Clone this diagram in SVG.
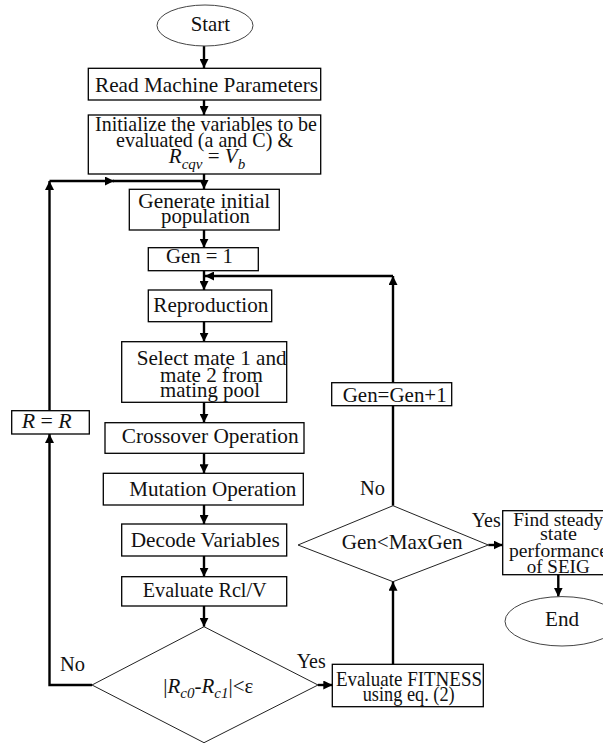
<svg xmlns="http://www.w3.org/2000/svg" width="603" height="744" viewBox="0 0 603 744">
<style>
  .box { fill: #fff; stroke: #000; stroke-width: 1.3; }
  .term { fill: #fff; stroke: #444; stroke-width: 1; }
  .dec { fill: #fff; stroke: #222; stroke-width: 1; }
  .conn { fill: none; stroke: #000; stroke-width: 2.4; }
  .t { font-family: 'Liberation Serif', 'Times New Roman', 'DejaVu Serif', serif; font-size: 21px; fill: #111; }
  .sm { font-size: 19.5px; }
  .it { font-style: italic; }
  .sub { font-style: italic; font-size: 15px; }
</style>
<defs>
  <marker id="ah" viewBox="0 0 10 10" refX="10" refY="5" markerWidth="9" markerHeight="9" markerUnits="userSpaceOnUse" orient="auto">
    <path d="M0,0 L10,5 L0,10 z" fill="#000"/>
  </marker>
</defs>
<rect width="603" height="744" fill="#fff"/>

<g id="connectors">
  <path class="conn" d="M204,46 L204,68" marker-end="url(#ah)"/>
  <path class="conn" d="M204,100 L204,115" marker-end="url(#ah)"/>
  <path class="conn" d="M204,174 L204,189" marker-end="url(#ah)"/>
  <path class="conn" d="M49.5,410.7 L49.5,181" marker-end="url(#ah)"/>
  <path class="conn" d="M49.5,181 L114,181" marker-end="url(#ah)"/>
  <path class="conn" d="M113,181 L204,181"/>
  <path class="conn" d="M204,230 L204,247.7" marker-end="url(#ah)"/>
  <path class="conn" d="M204,270.7 L204,290" marker-end="url(#ah)"/>
  <path class="conn" d="M393,382.7 L393,276" marker-end="url(#ah)"/>
  <path class="conn" d="M393,276 L205,276" marker-end="url(#ah)"/>
  <path class="conn" d="M204,321.7 L204,341.7" marker-end="url(#ah)"/>
  <path class="conn" d="M204,402.3 L204,422.7" marker-end="url(#ah)"/>
  <path class="conn" d="M92,685 L49.5,685 L49.5,434" marker-end="url(#ah)"/>
  <path class="conn" d="M204,453.3 L204,473.3" marker-end="url(#ah)"/>
  <path class="conn" d="M204,505 L204,524" marker-end="url(#ah)"/>
  <path class="conn" d="M204,556 L204,576.7" marker-end="url(#ah)"/>
  <path class="conn" d="M204,606 L204,626.7" marker-end="url(#ah)"/>
  <path class="conn" d="M318,685 L332.3,685" marker-end="url(#ah)"/>
  <path class="conn" d="M393,664.3 L393,581.7" marker-end="url(#ah)"/>
  <path class="conn" d="M393,505.7 L393,405.7"/>
  <path class="conn" d="M488.3,545 L502.7,545" marker-end="url(#ah)"/>
  <path class="conn" d="M558.3,574 L558.3,596.7" marker-end="url(#ah)"/>
</g>

<g id="start">
  <ellipse class="term" cx="205" cy="25.5" rx="48" ry="20.5"/>
  <text class="t" x="190.7" y="31" textLength="39.3" lengthAdjust="spacingAndGlyphs">Start</text>
</g>

<g id="read">
  <rect class="box" x="88.3" y="68.3" width="232.4" height="31.7"/>
  <text class="t" x="95" y="91.7" textLength="223" lengthAdjust="spacingAndGlyphs">Read Machine Parameters</text>
</g>

<g id="init">
  <rect class="box" x="88.3" y="115" width="232.4" height="59"/>
  <text class="t" x="95" y="130.7" textLength="222" lengthAdjust="spacingAndGlyphs">Initialize the variables to be</text>
  <text class="t" x="116" y="146.7" textLength="177" lengthAdjust="spacingAndGlyphs">evaluated (a and C) &amp;</text>
  <text class="t" x="207" y="162.5" text-anchor="middle"><tspan class="it">R</tspan><tspan class="sub" dy="6">cqv</tspan><tspan dy="-6"> = </tspan><tspan class="it">V</tspan><tspan class="sub" dy="6">b</tspan></text>
</g>

<g id="generate">
  <rect class="box" x="129.3" y="189.3" width="150" height="40.7"/>
  <text class="t" x="138.3" y="207.7" textLength="132" lengthAdjust="spacingAndGlyphs">Generate initial</text>
  <text class="t" x="161" y="223.3" textLength="89" lengthAdjust="spacingAndGlyphs">population</text>
</g>

<g id="gen1">
  <rect class="box" x="148.3" y="247.7" width="110" height="23"/>
  <text class="t" x="166" y="263.3" textLength="67" lengthAdjust="spacingAndGlyphs">Gen = 1</text>
</g>

<g id="reproduction">
  <rect class="box" x="148.3" y="290" width="123.4" height="31.7"/>
  <text class="t" x="153.3" y="311.7" textLength="115" lengthAdjust="spacingAndGlyphs">Reproduction</text>
</g>

<g id="select">
  <rect class="box" x="121.7" y="341.7" width="165" height="60.6"/>
  <text class="t" x="136.7" y="365" textLength="150" lengthAdjust="spacingAndGlyphs">Select mate 1 and</text>
  <text class="t" x="160" y="381.7" textLength="103" lengthAdjust="spacingAndGlyphs">mate 2 from</text>
  <text class="t" x="160" y="397.3" textLength="100" lengthAdjust="spacingAndGlyphs">mating pool</text>
</g>

<g id="rr">
  <rect class="box" x="11.7" y="410.7" width="77.6" height="23.3"/>
  <text class="t" x="21.7" y="428" textLength="50" lengthAdjust="spacingAndGlyphs"><tspan class="it">R</tspan> = <tspan class="it">R</tspan></text>
</g>

<g id="crossover">
  <rect class="box" x="105" y="422.7" width="199" height="30.6"/>
  <text class="t" x="121.7" y="443.3" textLength="177" lengthAdjust="spacingAndGlyphs">Crossover Operation</text>
</g>

<g id="mutation">
  <rect class="box" x="103.3" y="473.3" width="200" height="31.7"/>
  <text class="t" x="129.3" y="496" textLength="167" lengthAdjust="spacingAndGlyphs">Mutation Operation</text>
</g>

<g id="decode">
  <rect class="box" x="121.7" y="524" width="165" height="32"/>
  <text class="t" x="130.7" y="546.7" textLength="149" lengthAdjust="spacingAndGlyphs">Decode Variables</text>
</g>

<g id="evalrcl">
  <rect class="box" x="121.7" y="576.7" width="165" height="29.3"/>
  <text class="t" x="142.7" y="596.7" textLength="124" lengthAdjust="spacingAndGlyphs">Evaluate Rcl/V</text>
</g>

<g id="conv">
  <polygon class="dec" points="204,626.7 318,685 204,742.7 92,685"/>
  <text class="t" x="163.3" y="693.3">|<tspan class="it">R</tspan><tspan class="sub" dy="5">c0</tspan><tspan dy="-5">-</tspan><tspan class="it">R</tspan><tspan class="sub" dy="5">c1</tspan><tspan dy="-5">|&lt;ε</tspan></text>
  <text class="t" x="60" y="670.7" textLength="25" lengthAdjust="spacingAndGlyphs">No</text>
  <text class="t" x="296.7" y="668.3" textLength="29" lengthAdjust="spacingAndGlyphs">Yes</text>
</g>

<g id="fitness">
  <rect class="box" x="332.3" y="664.3" width="151" height="42.4"/>
  <text class="t" x="336" y="686" textLength="146" lengthAdjust="spacingAndGlyphs">Evaluate FITNESS</text>
  <text class="t" x="362.7" y="701" textLength="92" lengthAdjust="spacingAndGlyphs">using eq. (2)</text>
</g>

<g id="genplus">
  <rect class="box" x="331.7" y="382.7" width="120" height="23"/>
  <text class="t" x="342.7" y="401.7" textLength="104" lengthAdjust="spacingAndGlyphs">Gen=Gen+1</text>
</g>

<g id="maxgen">
  <polygon class="dec" points="393,505.7 488.3,545 393,581.7 298,545"/>
  <text class="t" x="341.7" y="549.3" textLength="121" lengthAdjust="spacingAndGlyphs">Gen&lt;MaxGen</text>
  <text class="t" x="360" y="495" textLength="25" lengthAdjust="spacingAndGlyphs">No</text>
  <text class="t" x="471.7" y="526.7" textLength="29" lengthAdjust="spacingAndGlyphs">Yes</text>
</g>

<g id="find">
  <rect class="box" x="502.7" y="510.7" width="110" height="64"/>
  <text class="t sm" x="513.3" y="526" textLength="90" lengthAdjust="spacingAndGlyphs">Find steady</text>
  <text class="t sm" x="540" y="540" textLength="37" lengthAdjust="spacingAndGlyphs">state</text>
  <text class="t sm" x="509" y="556.7" textLength="99" lengthAdjust="spacingAndGlyphs">performance</text>
  <text class="t sm" x="526.7" y="573.3" textLength="63" lengthAdjust="spacingAndGlyphs">of SEIG</text>
</g>

<g id="end">
  <ellipse class="term" cx="562" cy="621.3" rx="57" ry="24.7"/>
  <text class="t" x="545" y="626" textLength="34" lengthAdjust="spacingAndGlyphs">End</text>
</g>
</svg>
